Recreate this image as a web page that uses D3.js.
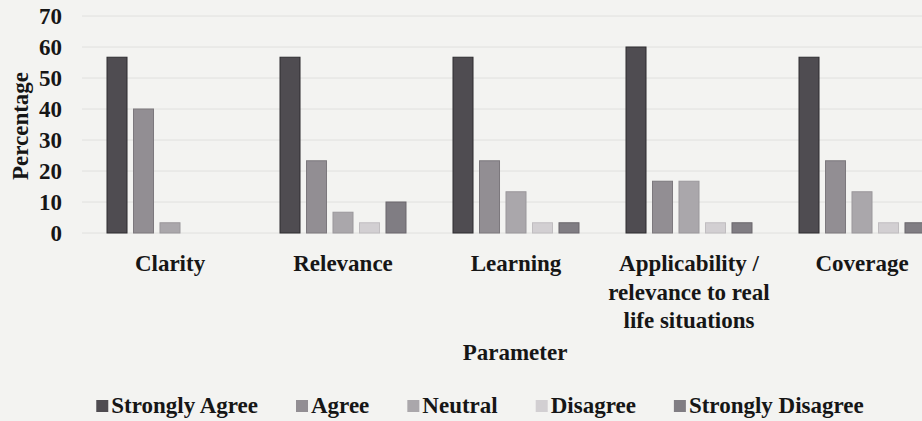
<!DOCTYPE html>
<html>
<head>
<meta charset="utf-8">
<script src="https://cdn.jsdelivr.net/npm/d3@7"></script>
<style>
    body { margin: 0; background: #f3f3f1; }
    svg { display: block; }
</style>
</head>
<body>
<div id="chart"></div>
<script>
// Chart data
const categories = [
    ["Clarity"],
    ["Relevance"],
    ["Learning"],
    ["Applicability /", "relevance to real", "life situations"],
    ["Coverage"],
];
const seriesNames = ["Strongly Agree", "Agree", "Neutral", "Disagree", "Strongly Disagree"];
const stronglyAgree = [56.7, 56.7, 56.7, 60, 56.7];
const agree = [40, 23.3, 23.3, 16.7, 23.3];
const neutral = [3.3, 6.7, 13.3, 16.7, 13.3];
const disagree = [0, 3.3, 3.3, 3.3, 3.3];
const stronglyDisagree = [0, 10, 3.3, 3.3, 3.3];
const yTicks = [0, 10, 20, 30, 40, 50, 60, 70];

const seriesValues = [stronglyAgree, agree, neutral, disagree, stronglyDisagree];
const colors = ["#4f4c51", "#928e93", "#aaa7ab", "#d2cfd2", "#807d83"];
const strokes = ["#2e2c30", "#7c787d", "#9a979b", "#c0bdc0", "#6a676c"];
const fontFamily = "'Liberation Serif', 'DejaVu Serif', serif";

const width = 922;
const height = 421;
const catKeys = categories.map((c) => c.join(" "));

const svg = d3
    .select("#chart")
    .append("svg")
    .attr("width", width)
    .attr("height", height)
    .attr("font-family", fontFamily)
    .attr("font-weight", "bold")
    .attr("fill", "#161616");

// Scales (plot runs past the right edge like the cropped original)
const x0 = d3.scaleBand().domain(catKeys).range([83.5, 948.5]);
const x1 = d3
    .scaleBand()
    .domain(seriesNames)
    .range([0, x0.bandwidth()])
    .paddingInner(0.245)
    .paddingOuter(0.887);
const y = d3.scaleLinear().domain([0, 70]).range([233, 16]);

// Gridlines
svg
    .append("g")
    .selectAll("line")
    .data(yTicks)
    .enter()
    .append("line")
    .attr("x1", 82)
    .attr("x2", width)
    .attr("y1", (d) => y(d))
    .attr("y2", (d) => y(d))
    .attr("stroke", "#e0e0de")
    .attr("stroke-width", 1);

// Y tick labels
svg
    .append("g")
    .selectAll("text")
    .data(yTicks)
    .enter()
    .append("text")
    .attr("x", 62)
    .attr("y", (d) => y(d) + 8)
    .attr("text-anchor", "end")
    .style("font-size", "23px")
    .text((d) => d);

// Bars
const groups = svg
    .append("g")
    .selectAll("g")
    .data(catKeys)
    .enter()
    .append("g")
    .attr("transform", (d) => `translate(${x0(d)},0)`);

groups
    .selectAll("rect")
    .data((d, i) => seriesNames.map((s, j) => ({ s: s, j: j, v: seriesValues[j][i] })))
    .enter()
    .filter((d) => d.v > 0)
    .append("rect")
    .attr("x", (d) => x1(d.s))
    .attr("y", (d) => y(d.v))
    .attr("width", x1.bandwidth())
    .attr("height", (d) => y(0) - y(d.v))
    .attr("fill", (d) => colors[d.j])
    .attr("stroke", (d) => strokes[d.j])
    .attr("stroke-width", 1);

// Category labels
const catLabels = svg
    .append("g")
    .selectAll("text")
    .data(categories)
    .enter()
    .append("text")
    .attr("text-anchor", "middle")
    .style("font-size", "23px")
    .attr("transform", (d, i) => `translate(${x0(catKeys[i]) + x0.bandwidth() / 2},271)`);

catLabels
    .selectAll("tspan")
    .data((d) => d)
    .enter()
    .append("tspan")
    .attr("x", 0)
    .attr("dy", (d, i) => (i === 0 ? 0 : 28.5))
    .text((d) => d);

// Axis titles
svg
    .append("text")
    .attr("text-anchor", "middle")
    .attr("x", 515)
    .attr("y", 360)
    .style("font-size", "23px")
    .text("Parameter");

svg
    .append("text")
    .attr("text-anchor", "middle")
    .attr("transform", "translate(28,126) rotate(-90)")
    .style("font-size", "23px")
    .text("Percentage");

// Legend
const legend = svg.append("g").attr("transform", "translate(0,413)");
const items = legend
    .selectAll("g")
    .data(seriesNames)
    .enter()
    .append("g");

items
    .append("rect")
    .attr("y", -13)
    .attr("width", 12)
    .attr("height", 12)
    .attr("fill", (d, i) => colors[i]);

items
    .append("text")
    .attr("x", 15)
    .style("font-size", "23px")
    .text((d) => d);

// Lay out legend items in a centered row
let offset = 0;
const widths = [];
items.each(function () {
    const w = 15 + d3.select(this).select("text").node().getComputedTextLength();
    widths.push(w);
});
const gap = 38;
const total = d3.sum(widths) + gap * (widths.length - 1);
offset = 480 - total / 2;
items.attr("transform", (d, i) => {
    const t = `translate(${offset},0)`;
    offset += widths[i] + gap;
    return t;
});
</script>
</body>
</html>
